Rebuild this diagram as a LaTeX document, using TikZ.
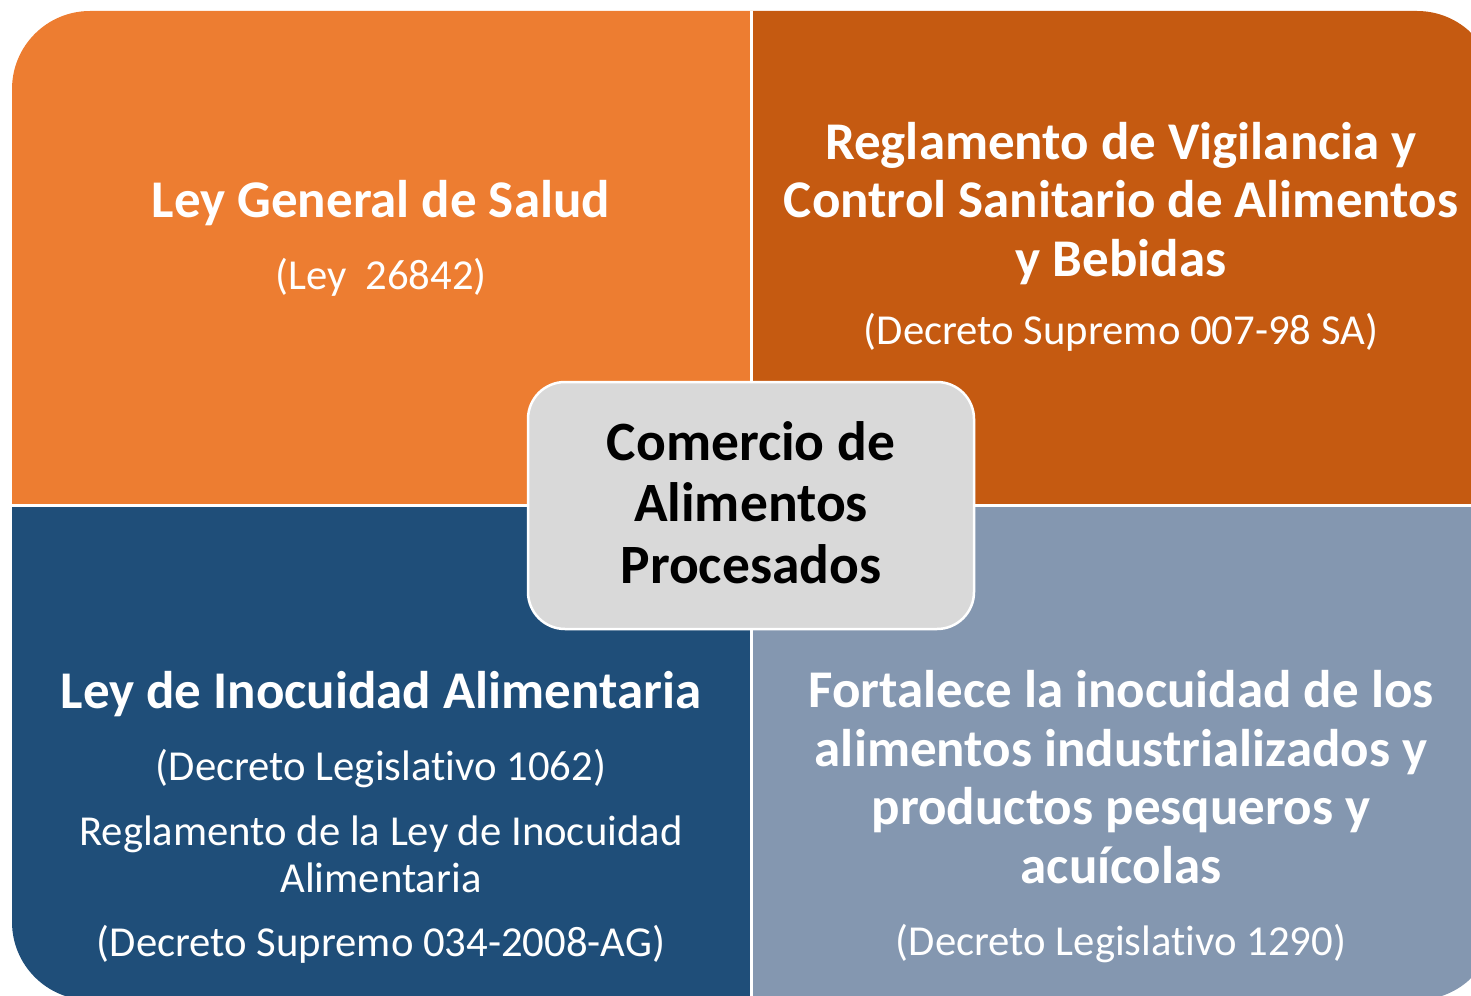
\documentclass[tikz,border=0pt]{standalone}
\usepackage{fontspec}
\setmainfont{Carlito}[Ligatures={NoCommon}]
\definecolor{qTL}{HTML}{ED7D31}
\definecolor{qTR}{HTML}{C55A11}
\definecolor{qBL}{HTML}{1F4E79}
\definecolor{qBR}{HTML}{8497B0}
\definecolor{cbox}{HTML}{D9D9D9}
\begin{document}
\begin{tikzpicture}[x=1pt,y=-1pt,
  title/.style={text=white,font=\fontsize{53}{58.5}\selectfont\bfseries,align=center,anchor=base,inner sep=0pt},
  sub/.style={text=white,font=\fontsize{42.7}{47}\selectfont,align=center,anchor=base,inner sep=0pt},
  ctext/.style={text=black,font=\fontsize{55.5}{61.5}\selectfont\bfseries,align=center,anchor=base,inner sep=0pt}]
\useasboundingbox (0,0) rectangle (1471,995);
\begin{scope}
  \clip[rounded corners=78pt] (12,11) rectangle (1495,1000);
  \fill[qTL] (0,0) rectangle (751,505);
  \fill[qTR] (751,0) rectangle (1500,505);
  \fill[qBL] (0,505) rectangle (751,1000);
  \fill[qBR] (751,505) rectangle (1500,1000);
  \draw[white,line width=3pt] (751,0) -- (751,1000);
  \draw[white,line width=3pt] (0,505) -- (1500,505);
\end{scope}
\fill[cbox,draw=white,line width=2.5pt,rounded corners=37pt] (528,382) rectangle (974,629);

\node[title] (tlT) at (381,217) {Ley General de Salud};
\node[sub] (tlS) at (381,289) {(Ley\ \ 26842)};

\node[title] (trT) at (1121,276) {Reglamento de Vigilancia y\\Control Sanitario de Alimentos\\y Bebidas};
\node[sub] (trS) at (1121,344) {(Decreto Supremo 007-98 SA)};

\node[title] (blT) at (381,708) {Ley de Inocuidad Alimentaria};
\node[sub] (blS1) at (381,780) {(Decreto Legislativo 1062)};
\node[sub] (blS2) at (381,892) {Reglamento de la Ley de Inocuidad\\Alimentaria};
\node[sub] (blS3) at (381,956) {(Decreto Supremo 034-2008-AG)};

\node[title] (brT) at (1121,883) {Fortalece la inocuidad de los\\alimentos industrializados y\\productos pesqueros y\\acuícolas};
\node[sub] (brS) at (1121,955) {(Decreto Legislativo 1290)};

\node[ctext] (center) at (751,583) {Comercio de\\Alimentos\\Procesados};
\end{tikzpicture}
\end{document}
